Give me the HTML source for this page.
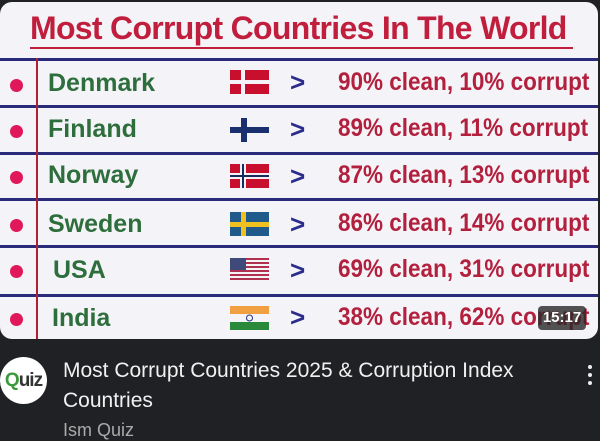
<!DOCTYPE html>
<html><head><meta charset="utf-8"><style>
*{margin:0;padding:0;box-sizing:border-box}
body{width:600px;height:440px;background:#202124;position:relative;overflow:hidden;font-family:"Liberation Sans",sans-serif}
.card{position:absolute;left:0;top:2px;width:598px;height:337px;background:#f4f4f8;border-radius:12px;overflow:hidden}
.title{position:absolute;left:30px;top:8px;font-size:32px;font-weight:bold;color:#c01e3c;letter-spacing:-0.7px;white-space:nowrap}
.ul{position:absolute;left:30px;top:45px;width:543px;height:2px;background:#c01e3c}
.hl{position:absolute;left:0;width:598px;height:3px;background:#2a2a7a}
.vl{position:absolute;left:36px;top:56px;width:2px;height:290px;background:#b02035}
.dot{position:absolute;left:10px;width:13px;height:13px;border-radius:50%;background:#e0185a}
.name{position:absolute;left:48px;font-size:25px;font-weight:bold;color:#2e6e3c}
.gt{position:absolute;left:290px;font-size:26px;font-weight:bold;color:#2c2c8c}
.pct{position:absolute;left:338px;font-size:25px;font-weight:bold;color:#b3203e;white-space:nowrap;transform:scaleX(0.9);transform-origin:0 0}
.flag{position:absolute;left:230px;width:39px;height:24px}
</style></head><body>
<div class="card">
<div class="title">Most Corrupt Countries In The World</div>
<div class="ul"></div>
<div class="hl" style="top:56px"></div>
<div class="hl" style="top:103px"></div>
<div class="hl" style="top:150px"></div>
<div class="hl" style="top:196px"></div>
<div class="hl" style="top:243px"></div>
<div class="hl" style="top:292px"></div>
<div class="vl"></div>

<div class="dot" style="top:77px"></div><div class="name" style="top:67px">Denmark</div>
<svg class="flag" style="top:68px" viewBox="0 0 39 24"><rect width="39" height="24" fill="#c8102e"/><rect x="11" width="4" height="24" fill="#f4f4f8"/><rect y="10" width="39" height="4" fill="#f4f4f8"/></svg>
<div class="gt" style="top:65px">&gt;</div><div class="pct" style="top:66px">90% clean, 10% corrupt</div>

<div class="dot" style="top:123px"></div><div class="name" style="top:113px">Finland</div>
<svg class="flag" style="top:116px" viewBox="0 0 39 24"><rect x="0" y="9" width="39" height="6" fill="#1a2f6e"/><rect x="11" y="0" width="6" height="24" fill="#1a2f6e"/></svg>
<div class="gt" style="top:112px">&gt;</div><div class="pct" style="top:112px">89% clean, 11% corrupt</div>

<div class="dot" style="top:169px"></div><div class="name" style="top:159px">Norway</div>
<svg class="flag" style="top:162px" viewBox="0 0 39 24"><rect width="39" height="24" fill="#c8102e"/><rect x="10" width="6" height="24" fill="#f4f4f8"/><rect y="9" width="39" height="6" fill="#f4f4f8"/><rect x="12" width="2" height="24" fill="#1a2a5e"/><rect y="11" width="39" height="2" fill="#1a2a5e"/></svg>
<div class="gt" style="top:159px">&gt;</div><div class="pct" style="top:159px">87% clean, 13% corrupt</div>

<div class="dot" style="top:217px"></div><div class="name" style="top:208px">Sweden</div>
<svg class="flag" style="top:210px" viewBox="0 0 39 24"><rect width="39" height="24" fill="#205a8a"/><rect x="11" width="5" height="24" fill="#f0c020"/><rect y="10" width="39" height="5" fill="#f0c020"/></svg>
<div class="gt" style="top:207px">&gt;</div><div class="pct" style="top:207px">86% clean, 14% corrupt</div>

<div class="dot" style="top:263px"></div><div class="name" style="top:254px;left:53px">USA</div>
<svg class="flag" style="top:256px" viewBox="0 0 39 24"><rect width="39" height="24" fill="#f4f4f8"/><g fill="#b03050"><rect y="0" width="39" height="2"/><rect y="4" width="39" height="2"/><rect y="8" width="39" height="2"/><rect y="12" width="39" height="2"/><rect y="16" width="39" height="2"/><rect y="20" width="39" height="2"/></g><rect width="16" height="12" fill="#404a7a"/></svg>
<div class="gt" style="top:253px">&gt;</div><div class="pct" style="top:253px">69% clean, 31% corrupt</div>

<div class="dot" style="top:311px"></div><div class="name" style="top:302px;left:52px">India</div>
<svg class="flag" style="top:304px" viewBox="0 0 39 24"><rect width="39" height="8" fill="#f0a040"/><rect y="8" width="39" height="8" fill="#f4f4f8"/><rect y="16" width="39" height="8" fill="#2a8a3a"/><circle cx="19.5" cy="12" r="3" fill="none" stroke="#203080" stroke-width="1"/></svg>
<div class="gt" style="top:300px">&gt;</div><div class="pct" style="top:301px">38% clean, 62% corrupt</div>

<div style="position:absolute;left:538px;top:304px;width:48px;height:24px;background:rgba(40,40,40,0.8);border-radius:4px;color:#fff;font-size:15px;font-weight:bold;text-align:center;line-height:24px">15:17</div>
</div>

<div style="position:absolute;left:0;top:357px;width:47px;height:47px;border-radius:50%;background:#fff;color:#333;font-size:19px;font-weight:bold;text-align:center;line-height:47px;letter-spacing:-1px"><span style="color:#3a9a3a">Q</span>uiz</div>
<div style="position:absolute;left:63px;top:356px;color:#f1f1f1;font-size:21px;line-height:30px;width:520px">Most Corrupt Countries 2025 &amp; Corruption Index<br>Countries</div>
<div style="position:absolute;left:63px;top:420px;color:#aaaaaa;font-size:18px">Ism Quiz</div>
<div style="position:absolute;left:588px;top:365px;width:4px;height:4px;border-radius:50%;background:#eee"></div>
<div style="position:absolute;left:588px;top:373px;width:4px;height:4px;border-radius:50%;background:#eee"></div>
<div style="position:absolute;left:588px;top:381px;width:4px;height:4px;border-radius:50%;background:#eee"></div>
</body></html>
